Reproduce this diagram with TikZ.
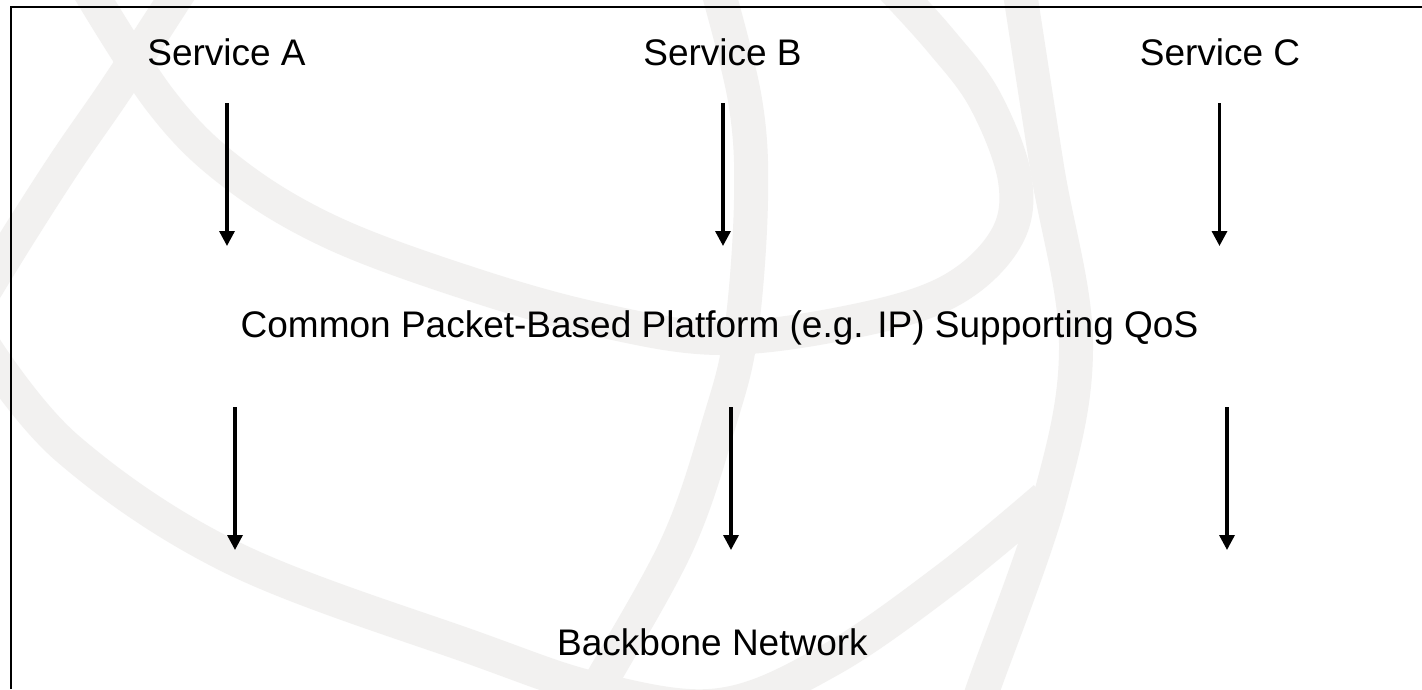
\documentclass[tikz,border=0pt]{standalone}
\usepackage{fontspec}
\setmainfont{Liberation Sans}
\usetikzlibrary{arrows.meta}
\definecolor{wm}{RGB}{242,241,240}
\tikzset{
  lbl/.style={anchor=base, inner sep=0pt, font=\fontsize{37}{44}\selectfont},
  flow/.style={line width=3.3pt, -{Triangle[width=15pt,length=15pt]}},
  band/.style={draw=wm, line width=34pt},
  frameline/.style={line width=2pt}
}
\begin{document}
\begin{tikzpicture}[x=1pt,y=-1pt]
\useasboundingbox (0,0) rectangle (1422,689);
\fill[white] (0,0) rectangle (1422,689);
% watermark bands
\begin{scope}
\clip (0,0) rectangle (1422,689);
\draw[band] plot[smooth, tension=0.6] coordinates {(80,-25) (160,100) (233,173) (333,233) (474,285) (600,320) (720,338) (850,322) (948,292) (1005,240) (1015,180) (985,100) (940,40) (890,-15)};
\draw[band] plot[smooth, tension=0.6] coordinates {(190,-25) (120,83) (67,160) (20,233) (-15,290)};
\draw[band] plot[smooth, tension=0.6] coordinates {(715,-20) (745,100) (751,200) (741,333) (720,420) (677,545) (597,689) (585,715)};
\draw[band] plot[smooth, tension=0.6] coordinates {(-20,340) (67,448) (233,558) (474,648) (600,690) (720,705) (830,660) (948,578) (1045,498)};
\draw[band] plot[smooth, tension=0.6] coordinates {(1018,-20) (1047,167) (1076,343) (1050,498) (983,689) (975,715)};
\end{scope}
% frame
\draw[frameline] (11,689) -- (11,6.5) -- (1422,6.5);
% texts
\node[lbl] (sA) at (226.5,65) {Service A};
\node[lbl] (sB) at (722.5,65) {Service B};
\node[lbl] (sC) at (1220,65) {Service C};
\node[lbl] (plat) at (719.5,337) {Common Packet-Based Platform (e.g. IP) Supporting QoS};
\node[lbl] (bb) at (712.5,655) {Backbone Network};
% arrow end points
\coordinate (a1s) at (227,103);   \coordinate (a1e) at (227,246);
\coordinate (b1s) at (723,103);   \coordinate (b1e) at (723,246);
\coordinate (c1s) at (1219.5,103);\coordinate (c1e) at (1219.5,246);
\coordinate (a2s) at (235,407);   \coordinate (a2e) at (235,550);
\coordinate (b2s) at (731,407);   \coordinate (b2e) at (731,550);
\coordinate (c2s) at (1227,407);  \coordinate (c2e) at (1227,550);
\draw[flow] (a1s) -- (a1e);
\draw[flow] (b1s) -- (b1e);
\draw[flow] (c1s) -- (c1e);
\draw[flow] (a2s) -- (a2e);
\draw[flow] (b2s) -- (b2e);
\draw[flow] (c2s) -- (c2e);
\end{tikzpicture}
\end{document}
